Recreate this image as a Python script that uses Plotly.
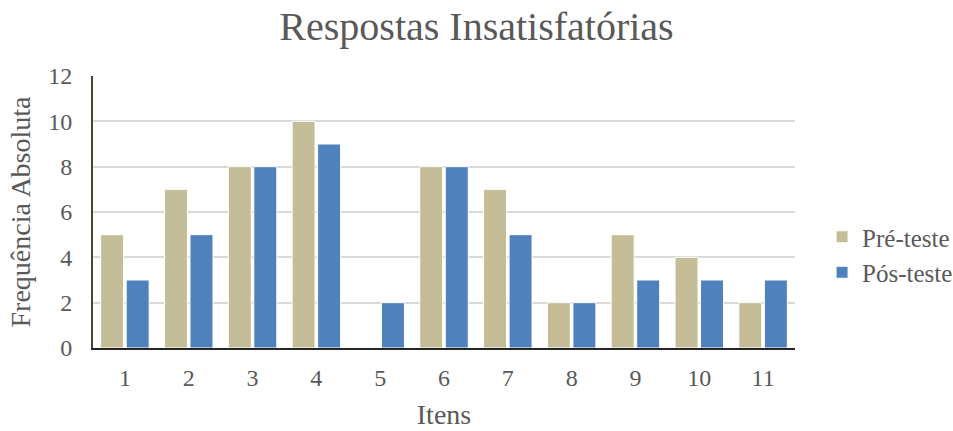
import plotly.graph_objects as go

itens = ["1", "2", "3", "4", "5", "6", "7", "8", "9", "10", "11"]
pre_teste = [5, 7, 8, 10, 0, 8, 7, 2, 5, 4, 2]
pos_teste = [3, 5, 8, 9, 2, 8, 5, 2, 3, 3, 3]
y_ticks = [0, 2, 4, 6, 8, 10, 12]

FONT = "Liberation Serif"
TEXT = "#595959"

fig = go.Figure()
fig.add_trace(go.Bar(
    x=itens, y=pre_teste, name="Pré-teste",
    marker=dict(color="#C4BD97", line=dict(color="white", width=1)),
))
fig.add_trace(go.Bar(
    x=itens, y=pos_teste, name="Pós-teste",
    marker=dict(color="#4F81BD", line=dict(color="white", width=1)),
))

fig.update_layout(
    width=953, height=431,
    margin=dict(l=93, r=158, t=76, b=83, autoexpand=False),
    paper_bgcolor="white", plot_bgcolor="white",
    barmode="group", bargap=0.2, bargroupgap=0.1,
    font=dict(family=FONT, color=TEXT, size=24),
    title=dict(text="Respostas Insatisfatórias", x=0.5, xref="container",
               y=0.94, yanchor="middle",
               font=dict(family=FONT, size=40, color=TEXT)),
    legend=dict(xref="container", yref="container",
                x=0.8626, y=0.4095, xanchor="left", yanchor="middle",
                font=dict(size=25, color=TEXT), itemwidth=30,
                tracegroupgap=18),
    xaxis=dict(title=dict(text="Itens", font=dict(size=28), standoff=15),
               showline=True, linecolor="#262626", linewidth=1.5,
               ticks="", tickfont=dict(size=24), ticklabelstandoff=7),
    yaxis=dict(title=dict(text="Frequência Absoluta", font=dict(size=28), standoff=9),
               range=[0, 12], tickvals=y_ticks,
               showgrid=True, gridcolor="#D9D9D9", gridwidth=1.5,
               showline=True, linecolor="#4A4530", linewidth=2,
               ticks="", tickfont=dict(size=24), zeroline=False,
               ticklabelstandoff=14),
)

fig.write_html("out.html")
